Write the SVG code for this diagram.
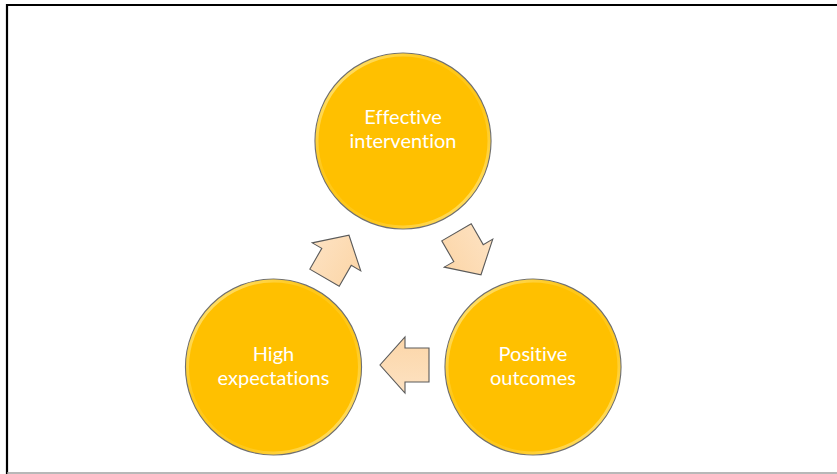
<svg xmlns="http://www.w3.org/2000/svg" width="837" height="474" viewBox="0 0 837 474">
  <style>
    .node circle.body { fill: #FFC000; stroke: #707070; stroke-width: 1.2; }
    .node circle.rim { fill: none; stroke: url(#rimGrad); stroke-width: 3; }
    .node text { font-family: Lato, "Open Sans", "Liberation Sans", sans-serif; font-size: 20px; font-variant-ligatures: none; fill: #FFFFFF; text-anchor: middle; }
    .arrow { fill: url(#arrowGrad); stroke: #5a5a5a; stroke-width: 1.1; stroke-linejoin: miter; }
  </style>
  <defs>
    <linearGradient id="rimGrad" x1="0" y1="0" x2="1" y2="1">
      <stop offset="0" stop-color="#FFF3B0" stop-opacity="0.9"/>
      <stop offset="0.35" stop-color="#FFE680" stop-opacity="0.2"/>
      <stop offset="0.65" stop-color="#FFE680" stop-opacity="0.2"/>
      <stop offset="1" stop-color="#FFF3B0" stop-opacity="0.8"/>
    </linearGradient>
    <linearGradient id="arrowGrad" x1="0" y1="0" x2="0" y2="1">
      <stop offset="0" stop-color="#FDE2C2"/>
      <stop offset="1" stop-color="#FCD6A8"/>
    </linearGradient>
    <path id="blockArrow" d="M-25,-17 H-1 V-28 L24,0 L-1,28 V17 H-25 Z"/>
  </defs>

  <rect x="0" y="0" width="837" height="474" fill="#FFFFFF"/>
  <g id="frame">
    <line x1="7" y1="5" x2="837" y2="5" stroke="#000000" stroke-width="2.2"/>
    <line x1="7" y1="4" x2="7" y2="474" stroke="#000000" stroke-width="2.2"/>
    <line x1="7" y1="473" x2="837" y2="473" stroke="#A0A0A0" stroke-width="1.5"/>
  </g>

  <g id="connectors">
    <use href="#blockArrow" class="arrow" transform="translate(469,254) rotate(60)"/>
    <use href="#blockArrow" class="arrow" transform="translate(404,365) rotate(180)"/>
    <use href="#blockArrow" class="arrow" transform="translate(337,256) rotate(-60)"/>
  </g>

  <g id="node-effective-intervention" class="node">
    <circle class="body" cx="403" cy="141" r="88"/>
    <circle class="rim" cx="403" cy="141" r="86"/>
    <text x="403" y="124">Effective</text>
    <text x="403" y="148">intervention</text>
  </g>

  <g id="node-positive-outcomes" class="node">
    <circle class="body" cx="533" cy="367" r="88"/>
    <circle class="rim" cx="533" cy="367" r="86"/>
    <text x="533" y="361">Positive</text>
    <text x="533" y="385">outcomes</text>
  </g>

  <g id="node-high-expectations" class="node">
    <circle class="body" cx="273.5" cy="367" r="88"/>
    <circle class="rim" cx="273.5" cy="367" r="86"/>
    <text x="273.5" y="361">High</text>
    <text x="273.5" y="385">expectations</text>
  </g>
</svg>
